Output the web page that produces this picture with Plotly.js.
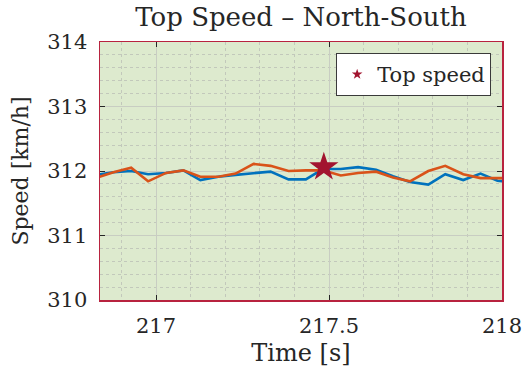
<!DOCTYPE html>
<html>
<head>
<meta charset="utf-8">
<script src="https://cdn.plot.ly/plotly-3.0.1.min.js"></script>
<style>html,body{margin:0;padding:0;background:#fff;}#chart{width:522px;height:381px;}</style>
</head>
<body>
<div id="chart"></div>
<script>
const times = [216.826, 216.877, 216.928, 216.977, 217.029, 217.079, 217.128, 217.180, 217.230, 217.282, 217.331, 217.383, 217.433, 217.482, 217.534, 217.584, 217.636, 217.685, 217.734, 217.787, 217.836, 217.888, 217.938, 217.987, 218.039];
const speedBlue = [311.94, 311.98, 312.00, 311.95, 311.97, 312.01, 311.86, 311.91, 311.94, 311.97, 311.99, 311.87, 311.87, 312.03, 312.03, 312.06, 312.02, 311.92, 311.83, 311.79, 311.95, 311.86, 311.96, 311.85, 311.82];
const speedOrange = [311.89, 311.98, 312.05, 311.84, 311.97, 312.01, 311.91, 311.91, 311.96, 312.11, 312.08, 312.00, 312.01, 312.01, 311.93, 311.97, 311.99, 311.90, 311.84, 312.00, 312.08, 311.95, 311.89, 311.89, 311.89];
const topTime = [217.485];
const topSpeed = [312.06];
const legendLabel = 'Top speed';
const xTicks = [217, 217.5, 218];
const xTickText = ['217', '217.5', '218'];
const yTicks = [310, 311, 312, 313, 314];

const FONT = 'DejaVu Serif';
const TXT = '#262626';
const AXC = '#b8233f';

const traces = [
  {x: times, y: speedBlue, type: 'scatter', mode: 'lines', line: {color: '#0072BD', width: 2.6}, showlegend: false, hoverinfo: 'skip'},
  {x: times, y: speedOrange, type: 'scatter', mode: 'lines', line: {color: '#D95319', width: 2.6}, showlegend: false, hoverinfo: 'skip'},
  {x: topTime, y: topSpeed, type: 'scatter', mode: 'markers', name: legendLabel, showlegend: true,
   marker: {symbol: 'star', size: 8, color: '#A2142F', line: {width: 0}}},
  {x: topTime, y: topSpeed, type: 'scatter', mode: 'markers', name: legendLabel, showlegend: false,
   marker: {symbol: 'star', size: 22, color: '#A2142F', line: {width: 0}}}
];

const layout = {
  width: 522, height: 381,
  margin: {l: 100, r: 20, t: 42, b: 81},
  paper_bgcolor: '#ffffff',
  plot_bgcolor: 'rgb(221,234,206)',
  font: {family: FONT, color: TXT, size: 21},
  title: {text: 'Top Speed – North-South', font: {family: FONT, size: 26, color: TXT}, x: 0.5, xref: 'paper', xanchor: 'center', y: 0.955, yref: 'container', yanchor: 'middle'},
  xaxis: {
    range: [216.838, 218], tickvals: xTicks, ticktext: xTickText,
    showline: true, linecolor: AXC, linewidth: 1.5, mirror: 'ticks',
    ticks: 'inside', ticklen: 5, tickcolor: TXT, tickwidth: 1,
    showgrid: true, gridcolor: '#c8cdc2', gridwidth: 1, zeroline: false,
    minor: {dtick: 0.1, tick0: 217, showgrid: true, gridcolor: '#c2c8bb', griddash: 'dot', gridwidth: 1},
    tickfont: {family: FONT, size: 21, color: TXT},
    ticklabelstandoff: 6, ticklabeloverflow: 'allow',
    title: {text: 'Time [s]', font: {family: FONT, size: 24, color: TXT}, standoff: 7}
  },
  yaxis: {
    range: [310, 314], tickvals: yTicks,
    showline: true, linecolor: AXC, linewidth: 1.5, mirror: 'ticks',
    ticks: 'inside', ticklen: 5, tickcolor: TXT, tickwidth: 1,
    showgrid: true, gridcolor: '#c8cdc2', gridwidth: 1, zeroline: false,
    minor: {dtick: 0.2, tick0: 310, showgrid: true, gridcolor: '#c2c8bb', griddash: 'dot', gridwidth: 1},
    tickfont: {family: FONT, size: 21, color: TXT},
    ticklabelstandoff: 7, ticklabeloverflow: 'allow',
    title: {text: 'Speed [km/h]', font: {family: FONT, size: 22, color: TXT}, standoff: 12}
  },
  legend: {x: 0.973, xanchor: 'right', y: 0.957, yanchor: 'top', bgcolor: '#ffffff', bordercolor: '#3a3a3a', borderwidth: 1,
           font: {family: FONT, size: 21, color: TXT}, itemsizing: 'trace'},
  showlegend: true
};

Plotly.newPlot('chart', traces, layout, {displayModeBar: false, staticPlot: true});
</script>
</body>
</html>
